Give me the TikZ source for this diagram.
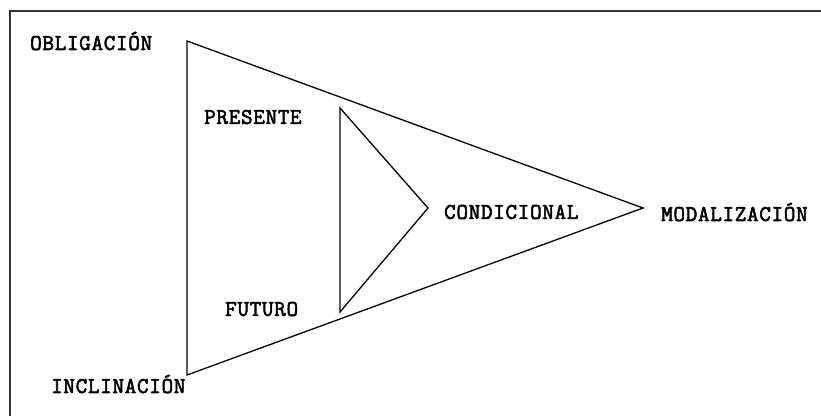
\documentclass[tikz,border=0pt]{standalone}
\usepackage{fontspec}
\newfontfamily\lblfont{Latin Modern Mono}[FakeBold=2.5,LetterSpace=3]
\begin{document}
\begin{tikzpicture}[x=1pt,y=-1pt,
  lbl/.style={anchor=west,inner sep=0pt,font=\lblfont\fontsize{22.5}{22.5}\selectfont},
  edge/.style={draw=black,line width=1.3pt,line join=miter}]
\useasboundingbox (0,0) rectangle (821,415);
\draw[line width=2pt,draw=black!80] (10,416) -- (10,11) -- (822,11);
% big triangle
\coordinate (bt) at (187,41);
\coordinate (bb) at (187,375);
\coordinate (bm) at (643,208);
\draw[edge] (bt) -- (bm) -- (bb) -- cycle;
% small triangle
\coordinate (st) at (340,108);
\coordinate (sb) at (340,312);
\coordinate (sm) at (428,208);
\draw[edge] (st) -- (sm) -- (sb) -- cycle;
% labels
\node[lbl] (obl) at (30,41) {OBLIGACIÓN};
\node[lbl] (inc) at (51,384) {INCLINACIÓN};
\node[lbl] (pre) at (204,117) {PRESENTE};
\node[lbl] (fut) at (225,309) {FUTURO};
\node[lbl] (con) at (444,212) {CONDICIONAL};
\node[lbl] (mod) at (661,212) {MODALIZACIÓN};
\end{tikzpicture}
\end{document}
